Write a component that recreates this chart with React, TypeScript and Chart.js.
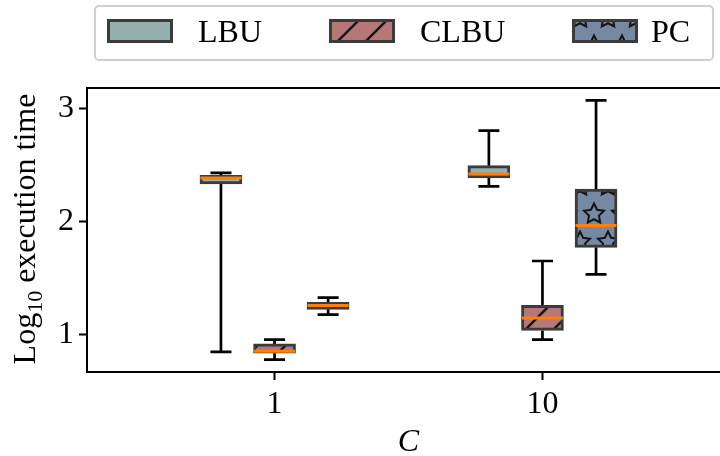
import { useEffect, useRef } from 'react';
import { Chart, registerables } from 'chart.js';

Chart.register(...registerables);

// C values along the x axis and where their groups sit on the linear scale
const categories = ['1', '10'];
const categoryPositions = [0, 1];

// series drawn side by side inside each group
const seriesNames = ['LBU', 'CLBU', 'PC'];
const seriesOffsets = [-0.2, 0, 0.2];
const seriesColors = ['#93b0ac', '#b87777', '#7589a3'];
const seriesHatches = ['', '/', '*'];

// five-number summaries (log10 execution time), one entry per C value
const lbuLow = [0.844, 2.313];
const lbuQ1 = [2.335, 2.388];
const lbuMedian = [2.388, 2.423];
const lbuQ3 = [2.411, 2.497];
const lbuHigh = [2.432, 2.807];

const clbuLow = [0.776, 0.953];
const clbuQ1 = [0.832, 1.035];
const clbuMedian = [0.85, 1.146];
const clbuQ3 = [0.915, 1.257];
const clbuHigh = [0.953, 1.651];

const pcLow = [1.175, 1.532];
const pcQ1 = [1.222, 1.772];
const pcMedian = [1.255, 1.967];
const pcQ3 = [1.284, 2.29];
const pcHigh = [1.326, 3.076];

const yTicks = [1, 2, 3];

const lows = [lbuLow, clbuLow, pcLow];
const q1s = [lbuQ1, clbuQ1, pcQ1];
const medians = [lbuMedian, clbuMedian, pcMedian];
const q3s = [lbuQ3, clbuQ3, pcQ3];
const highs = [lbuHigh, clbuHigh, pcHigh];

const FONT = '"Liberation Serif", "Times New Roman", serif';
const EDGE = '#3b3b3b';
const HATCH = '#151515';
const MEDIAN = '#ff7f0e';

function drawStar(ctx: CanvasRenderingContext2D, cx: number, cy: number, r: number) {
  ctx.beginPath();
  for (let k = 0; k < 10; k++) {
    const a = -Math.PI / 2 + (k * Math.PI) / 5;
    const rr = k % 2 === 0 ? r : r * 0.5;
    const px = cx + rr * Math.cos(a);
    const py = cy + rr * Math.sin(a);
    if (k === 0) ctx.moveTo(px, py);
    else ctx.lineTo(px, py);
  }
  ctx.closePath();
  ctx.stroke();
}

// Fill colour plus hatch, as a repeating pattern anchored to the canvas origin
function makeFill(color: string, hatch: string): string | CanvasPattern {
  if (!hatch) return color;
  const step = 28;
  const tile = document.createElement('canvas');
  const ctx = tile.getContext('2d')!;
  if (hatch === '/') {
    tile.width = step;
    tile.height = step;
    ctx.fillStyle = color;
    ctx.fillRect(0, 0, step, step);
    ctx.strokeStyle = HATCH;
    ctx.lineWidth = 2.5;
    const phase = 15;
    for (const c of [phase - step, phase, phase + step]) {
      ctx.beginPath();
      ctx.moveTo(c + 20, -20);
      ctx.lineTo(-20, c + 20);
      ctx.stroke();
    }
  } else {
    tile.width = step;
    tile.height = step * 2;
    ctx.fillStyle = color;
    ctx.fillRect(0, 0, step, step * 2);
    ctx.strokeStyle = HATCH;
    ctx.lineWidth = 2;
    ctx.lineJoin = 'miter';
    const r = 10.5;
    const anchors = [
      [6, 46],
      [6 + step / 2, 46 - step],
    ];
    for (const [ax, ay] of anchors) {
      for (const dx of [-step, 0, step]) {
        for (const dy of [-2 * step, 0, 2 * step]) {
          drawStar(ctx, ax + dx, ay + dy, r);
        }
      }
    }
  }
  return ctx.createPattern(tile, 'repeat')!;
}

const whiskerPlugin = {
  id: 'whiskers',
  beforeDatasetsDraw(chart: any) {
    const { ctx } = chart;
    const y = chart.scales.y;
    ctx.save();
    ctx.strokeStyle = '#000';
    ctx.lineWidth = 2.7;
    ctx.lineCap = 'butt';
    seriesNames.forEach((_, i) => {
      const meta = chart.getDatasetMeta(i);
      meta.data.forEach((el: any, j: number) => {
        const cap = el.width / 4;
        const segs = [
          [q3s[i][j], highs[i][j]],
          [q1s[i][j], lows[i][j]],
        ];
        for (const [from, to] of segs) {
          const p0 = y.getPixelForValue(from);
          const p1 = y.getPixelForValue(to);
          ctx.beginPath();
          ctx.moveTo(el.x, p0);
          ctx.lineTo(el.x, p1);
          ctx.moveTo(el.x - cap, p1);
          ctx.lineTo(el.x + cap, p1);
          ctx.stroke();
        }
      });
    });
    ctx.restore();
  },
  afterDatasetsDraw(chart: any) {
    const { ctx } = chart;
    const y = chart.scales.y;
    ctx.save();
    ctx.strokeStyle = MEDIAN;
    ctx.lineWidth = 3;
    seriesNames.forEach((_, i) => {
      const meta = chart.getDatasetMeta(i);
      meta.data.forEach((el: any, j: number) => {
        const half = el.width / 2 - 0.5;
        const p = y.getPixelForValue(medians[i][j]);
        ctx.beginPath();
        ctx.moveTo(el.x - half, p);
        ctx.lineTo(el.x + half, p);
        ctx.stroke();
      });
    });
    ctx.restore();
  },
};

const decorPlugin = {
  id: 'decor',
  afterDraw(chart: any) {
    const { ctx, chartArea } = chart;
    ctx.save();
    // top spine
    ctx.strokeStyle = '#000';
    ctx.lineWidth = 2;
    ctx.beginPath();
    ctx.moveTo(chartArea.left - 1, chartArea.top);
    ctx.lineTo(chartArea.right, chartArea.top);
    ctx.stroke();

    // rotated y-axis title with subscript
    ctx.fillStyle = '#000';
    ctx.translate(35, 229);
    ctx.rotate(-Math.PI / 2);
    ctx.textBaseline = 'alphabetic';
    ctx.textAlign = 'left';
    const big = `32px ${FONT}`;
    const small = `22px ${FONT}`;
    ctx.font = big;
    const w1 = ctx.measureText('Log').width;
    const w3 = ctx.measureText(' execution time').width;
    ctx.font = small;
    const w2 = ctx.measureText('10').width;
    let x = -(w1 + w2 + w3) / 2;
    ctx.font = big;
    ctx.fillText('Log', x, 0);
    x += w1;
    ctx.font = small;
    ctx.fillText('10', x, 7);
    x += w2;
    ctx.font = big;
    ctx.fillText(' execution time', x, 0);
    ctx.restore();

    // legend
    ctx.save();
    ctx.strokeStyle = '#d0d0d0';
    ctx.lineWidth = 2;
    ctx.beginPath();
    ctx.roundRect(95, 6, 618, 54, 4);
    ctx.fillStyle = '#fff';
    ctx.fill();
    ctx.stroke();
    const patchX = [107, 329, 572];
    const textX = [198, 420, 651];
    seriesNames.forEach((name, i) => {
      const ds = chart.data.datasets[i];
      ctx.fillStyle = ds.backgroundColor;
      ctx.fillRect(patchX[i], 19, 66, 24);
      ctx.strokeStyle = EDGE;
      ctx.lineWidth = 3;
      ctx.strokeRect(patchX[i] + 1.5, 20.5, 63, 21);
      ctx.fillStyle = '#000';
      ctx.font = `32px ${FONT}`;
      ctx.textBaseline = 'alphabetic';
      ctx.textAlign = 'left';
      ctx.fillText(name, textX[i], 42);
    });
    ctx.restore();
  },
};

export default function App() {
  const canvasRef = useRef<HTMLCanvasElement | null>(null);

  useEffect(() => {
    const canvas = canvasRef.current;
    if (!canvas) return;

    const datasets = seriesNames.map((name, i) => ({
      type: 'bar' as const,
      label: name,
      data: categoryPositions.map((p, j) => ({
        x: p + seriesOffsets[i],
        y: [q1s[i][j], q3s[i][j]],
      })),
      backgroundColor: makeFill(seriesColors[i], seriesHatches[i]),
      borderColor: EDGE,
      borderWidth: 3,
      borderSkipped: false,
      barThickness: 42,
      grouped: false,
    }));

    const tickFont = { family: FONT, size: 32 };

    const chart = new Chart(canvas, {
      type: 'bar',
      data: { datasets: datasets as any },
      options: {
        animation: false,
        responsive: false,
        events: [],
        layout: { padding: { top: 88, left: 0, right: 0, bottom: 0 } },
        plugins: { legend: { display: false }, tooltip: { enabled: false } },
        scales: {
          x: {
            type: 'linear',
            min: -0.7,
            max: 1.7,
            offset: false,
            afterBuildTicks: (scale: any) => {
              scale.ticks = categoryPositions.map((v) => ({ value: v }));
            },
            afterFit: (scale: any) => {
              scale.height = 84;
            },
            ticks: {
              callback: (_v: any, idx: number) => categories[idx],
              font: tickFont,
              color: '#000',
              padding: 5,
              maxRotation: 0,
              autoSkip: false,
            },
            grid: {
              offset: false,
              drawOnChartArea: false,
              drawTicks: true,
              tickLength: 8,
              tickWidth: 2,
              tickColor: '#000',
            },
            border: { display: true, color: '#000', width: 2 },
            title: {
              display: true,
              text: 'C',
              color: '#000',
              font: { family: FONT, size: 32, style: 'italic' },
              padding: { top: 0, bottom: -6 },
            },
          },
          y: {
            type: 'linear',
            min: 0.666,
            max: 3.186,
            afterBuildTicks: (scale: any) => {
              scale.ticks = yTicks.map((v) => ({ value: v }));
            },
            afterFit: (scale: any) => {
              scale.width = 87;
            },
            ticks: {
              font: tickFont,
              color: '#000',
              padding: 5,
              callback: (v: any) => String(v),
            },
            grid: {
              drawOnChartArea: false,
              drawTicks: true,
              tickLength: 8,
              tickWidth: 2,
              tickColor: '#000',
            },
            border: { display: true, color: '#000', width: 2 },
          },
        },
      },
      plugins: [whiskerPlugin, decorPlugin],
    });

    return () => chart.destroy();
  }, []);

  return (
    <div
      style={{
        position: 'fixed',
        left: 0,
        top: 0,
        width: 720,
        height: 456,
        overflow: 'hidden',
        background: '#fff',
      }}
    >
      <canvas ref={canvasRef} width={730} height={456} style={{ display: 'block' }} />
    </div>
  );
}
